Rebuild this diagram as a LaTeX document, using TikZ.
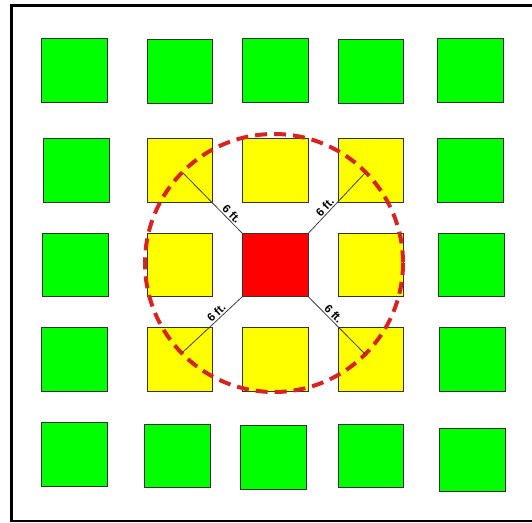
\documentclass[tikz,border=0pt]{standalone}
\usepackage{fontspec}
\setmainfont{Liberation Sans}
\begin{document}
\begin{tikzpicture}[x=1pt,y=-1pt,
  sqbox/.style={draw=black!80,line width=0.9pt,inner sep=0pt,outer sep=0pt},
  gr/.style={sqbox,fill=sqgreen},
  ye/.style={sqbox,fill=sqyellow},
  rd/.style={sqbox,fill=sqred},
  ring/.style={draw=ringred,line width=4pt,dash pattern=on 12pt off 7pt},
  ruler/.style={draw=black!75,line width=0.8pt},
  lbl/.style={font=\bfseries\fontsize{11.5}{13}\selectfont,sloped,above,inner sep=1.5pt}]
\definecolor{ringred}{RGB}{214,36,36}
\definecolor{sqgreen}{RGB}{0,255,0}
\definecolor{sqyellow}{RGB}{255,255,0}
\definecolor{sqred}{RGB}{255,0,0}
\newcommand\mysq[6]{\node[#6,minimum width={(#4-#2)*1pt},minimum height={(#5-#3)*1pt}] (#1) at ({(#2+#4)/2},{(#3+#5)/2}) {};}
\useasboundingbox (0,0) rectangle (532,522);
\clip (0,0) rectangle (532,522);
\fill[white] (0,0) rectangle (532,522);
% frame
\draw[line width=2.6pt] (545,5.3) -- (11.6,5.3) -- (11.6,520.8) -- (545,520.8);
% row 0
\mysq{a0}{41.7}{38.7}{107.3}{102.3}{gr}
\mysq{a1}{147.3}{39.3}{212.7}{103.3}{gr}
\mysq{a2}{242.3}{38.7}{308.3}{102.3}{gr}
\mysq{a3}{338}{39.3}{403.3}{103.3}{gr}
\mysq{a4}{437.7}{38.7}{503.3}{102.3}{gr}
% row 1
\mysq{b0}{43.3}{138.3}{109.3}{202.3}{gr}
\mysq{b1}{147.3}{138.3}{212.7}{202.3}{ye}
\mysq{b2}{242.3}{138.3}{308.3}{202.3}{ye}
\mysq{b3}{338}{138.3}{403.3}{202.3}{ye}
\mysq{b4}{437.7}{138.3}{503.3}{202.3}{gr}
% row 2
\mysq{c0}{42.7}{233.3}{108.3}{296.7}{gr}
\mysq{c1}{147.3}{233.3}{212.7}{296.7}{ye}
\mysq{c2}{242.3}{233.3}{308.3}{296.7}{rd}
\mysq{c3}{338}{233.3}{403.3}{296.7}{ye}
\mysq{c4}{438.3}{233.3}{504.3}{296.7}{gr}
% row 3
\mysq{d0}{41.7}{327.7}{107.3}{391}{gr}
\mysq{d1}{147.3}{327.7}{212.7}{391}{ye}
\mysq{d2}{242.3}{327.7}{308.3}{391}{ye}
\mysq{d3}{338}{327.7}{403.3}{391}{ye}
\mysq{d4}{439.3}{327.7}{505.3}{391}{gr}
% row 4
\mysq{e0}{41.7}{422.3}{107.3}{486}{gr}
\mysq{e1}{144.3}{424}{210.3}{487.7}{gr}
\mysq{e2}{240.7}{425}{306.7}{489}{gr}
\mysq{e3}{338}{424}{403.3}{487.7}{gr}
\mysq{e4}{439.3}{428.3}{505.3}{491}{gr}
% circle
\coordinate (ctr) at (274,263);
\draw[ring] (ctr) circle[radius=129];
\coordinate (pnw) at (183,173);
\coordinate (pne) at (365,173);
\coordinate (psw) at (183,352);
\coordinate (pse) at (365,354);
\draw[ruler] (c2.north west) -- node[lbl,pos=0.25] {6 ft.} (pnw);
\draw[ruler] (c2.north east) -- node[lbl,pos=0.37] {6 ft.} (pne);
\draw[ruler] (c2.south west) -- node[lbl,pos=0.37] {6 ft.} (psw);
\draw[ruler] (c2.south east) -- node[lbl,pos=0.37] {6 ft.} (pse);
\end{tikzpicture}
\end{document}
